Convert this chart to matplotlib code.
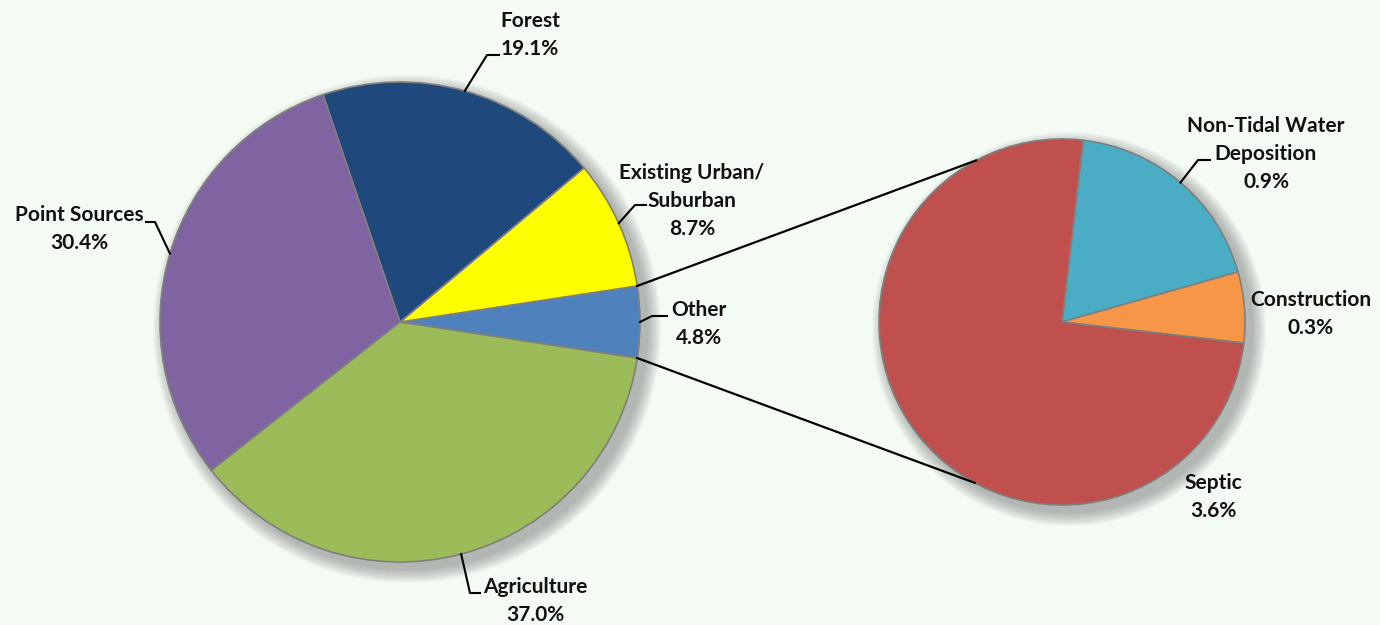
import numpy as np
import matplotlib.pyplot as plt
from matplotlib.patches import Circle

# main pie (share of total load, %)
main_labels = ["Other", "Existing Urban/\nSuburban", "Forest", "Point Sources", "Agriculture"]
main_values = [4.8, 8.7, 19.1, 30.4, 37.0]
main_colors = ["#4F81BD", "#FFFF00", "#1F497D", "#8064A2", "#9BBB59"]

# breakdown of "Other"
sub_labels = ["Non-Tidal Water\nDeposition", "Construction", "Septic"]
sub_values = [0.9, 0.3, 3.6]
sub_colors = ["#4BACC6", "#F79646", "#C0504D"]

W, H = 1380, 625
bg = "#F4FAF4"
fig = plt.figure(figsize=(W / 100, H / 100), dpi=100, facecolor=bg)
ax = fig.add_axes([0, 0, 1, 1])
ax.set_facecolor(bg)

c1, r1 = (400, H - 322), 240
c2, r2 = (1062, H - 322), 183

def shadow(c, r):
    for k in range(14):
        ax.add_patch(Circle((c[0] + 7, c[1] - 7), r + 14 - k, color="#606060",
                            alpha=0.035, lw=0, zorder=0))

shadow(c1, r1)
shadow(c2, r2)

start1 = -main_values[0] * 3.6 / 2
w1, _ = ax.pie(main_values, colors=main_colors, startangle=start1, counterclock=True,
               center=c1, radius=r1, frame=True,
               wedgeprops=dict(edgecolor="#7F7F7F", linewidth=1.2))
start2 = 83.4
w2, _ = ax.pie(sub_values, colors=sub_colors, startangle=start2, counterclock=False,
               center=c2, radius=r2, frame=True,
               wedgeprops=dict(edgecolor="#7F7F7F", linewidth=1.2))
for w in w1 + w2:
    w.set_zorder(2)

# connector lines between the "Other" wedge and the breakdown pie
a_top, a_bot = np.radians(w1[0].theta2), np.radians(w1[0].theta1)
for a_main, a_sub in [(a_top, np.radians(118)), (a_bot, np.radians(241.5))]:
    ax.plot([c1[0] + r1 * np.cos(a_main), c2[0] + r2 * np.cos(a_sub)],
            [c1[1] + r1 * np.sin(a_main), c2[1] + r2 * np.sin(a_sub)],
            color="black", lw=1.6, zorder=3)

font = dict(family="Lato", weight="bold", fontsize=15, color="#111111",
            ha="center", va="center", linespacing=1.5)

def edge_point(w, c, r):
    a = np.radians((w.theta1 + w.theta2) / 2)
    return c[0] + r * np.cos(a), c[1] + r * np.sin(a)

# (text x, text y, elbow, leader end) in pixel coords of the picture
main_pos = [
    (699, 324, (652, 316), (667, 316)),
    (692, 201, (635, 205), (646, 205)),
    (530, 35, (487, 55), (499, 55)),
    (79, 229, (155, 222), (146, 222)),
    (535, 601, (470, 593), (480, 593)),
]
for w, lab, val, (tx, ty, elb, end) in zip(w1, main_labels, main_values, main_pos):
    ax.text(tx, H - ty, f"{lab}\n{val:.1f}%", **font, zorder=4)
    if elb is not None:
        p = edge_point(w, c1, r1)
        ax.plot([p[0], elb[0], end[0]], [p[1], H - elb[1], H - end[1]],
                color="black", lw=1.5, zorder=3)

sub_pos = [
    (1266, 154, (1198, 160), (1210, 160)),
    (1311, 314, None, None),
    (1213, 497, None, None),
]
for w, lab, val, (tx, ty, elb, end) in zip(w2, sub_labels, sub_values, sub_pos):
    ax.text(tx, H - ty, f"{lab}\n{val:.1f}%", **font, zorder=4)
    if elb is not None:
        p = edge_point(w, c2, r2)
        ax.plot([p[0], elb[0], end[0]], [p[1], H - elb[1], H - end[1]],
                color="black", lw=1.5, zorder=3)

ax.set_xlim(0, W)
ax.set_ylim(0, H)
ax.set_aspect("equal")
ax.axis("off")
fig.savefig("out.png", dpi=100, facecolor=bg)
